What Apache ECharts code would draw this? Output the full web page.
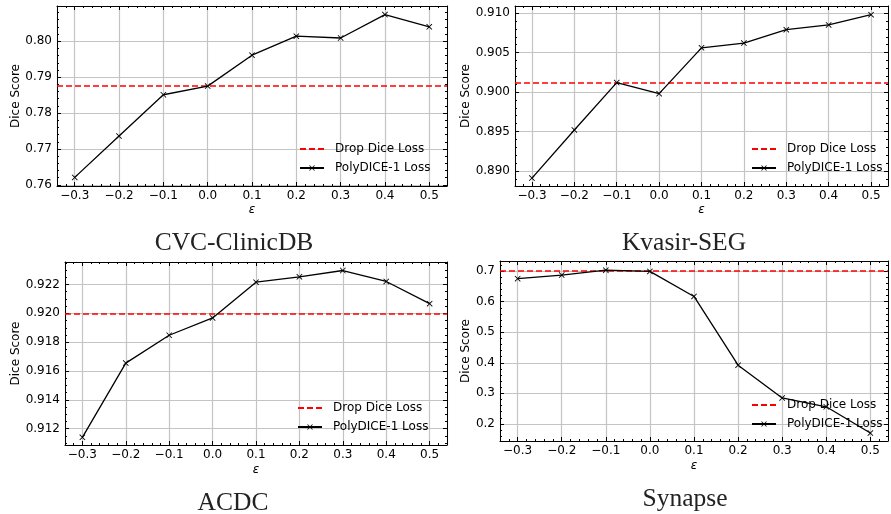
<!DOCTYPE html>
<html>
<head>
<meta charset="utf-8">
<script src="https://cdn.jsdelivr.net/npm/echarts@6/dist/echarts.min.js"></script>
<style>
  html, body { margin: 0; padding: 0; background: #fff; }
  #chart { width: 891px; height: 514px; }
</style>
</head>
<body>
<div id="chart"></div>
<script>
// epsilon values on the x axis
var eps = [-0.3, -0.2, -0.1, 0.0, 0.1, 0.2, 0.3, 0.4, 0.5];

// PolyDICE-1 Loss curves
var cvcPoly     = [0.7621, 0.7736, 0.7851, 0.7875, 0.7961, 0.8014, 0.8009, 0.8074, 0.8040];
var kvasirPoly  = [0.8891, 0.8952, 0.9012, 0.8998, 0.9056, 0.9062, 0.9079, 0.9085, 0.9098];
var acdcPoly    = [0.9114, 0.91655, 0.91848, 0.91968, 0.92216, 0.92253, 0.92297, 0.92221, 0.92067];
var synapsePoly = [0.675, 0.687, 0.703, 0.699, 0.617, 0.392, 0.285, 0.256, 0.170];

// Drop Dice Loss baselines (horizontal dashed lines)
var cvcDrop = 0.7875;
var kvasirDrop = 0.9012;
var acdcDrop = 0.91995;
var synapseDrop = 0.701;

var titles = ['CVC-ClinicDB', 'Kvasir-SEG', 'ACDC', 'Synapse'];

// per panel: y range, major step, decimals, minor splits
var panels = [
    { poly: cvcPoly,     drop: cvcDrop,     ymin: 0.7597,  ymax: 0.8098,  step: 0.01,  dec: 2, ysplit: 5, minor: 5,
      box: [57, 6, 390, 180],  yGap: 35, xGap: 18, legend: [299, 143], title: [229, 225] },
    { poly: kvasirPoly,  drop: kvasirDrop,  ymin: 0.8881,  ymax: 0.9109,  step: 0.005, dec: 3, ysplit: 5, minor: 5,
      box: [515, 6, 382, 180], yGap: 42, xGap: 18, legend: [751, 143], title: [679, 225] },
    { poly: acdcPoly,    drop: acdcDrop,    ymin: 0.91087, ymax: 0.92356, step: 0.002, dec: 3, ysplit: 6, minor: 4,
      box: [65, 262, 382, 183], yGap: 43, xGap: 19, legend: [297, 402], title: [228, 485] },
    { poly: synapsePoly, drop: synapseDrop, ymin: 0.144,   ymax: 0.733,   step: 0.1,   dec: 1, ysplit: 6, minor: 5,
      box: [500, 261, 398, 180], yGap: 27, xGap: 19, legend: [751, 399], title: [680, 481] }
];

var xMin = -0.34, xMax = 0.54, xStep = 0.1;

function fmt(step, dec) {
    return function (v) {
        var k = Number(v) / step;
        if (Math.abs(k - Math.round(k)) > 1e-6) return '';
        var n = Math.round(k);
        var s = (Math.abs(n) * step).toFixed(dec);
        return n < 0 ? '\u2212' + s : s;
    };
}

var font = 'DejaVu Sans';
var crossPath = 'path://M0,1L1,0L5,4L9,0L10,1L6,5L10,9L9,10L5,6L1,10L0,9L4,5Z';

var grid = [], xAxis = [], yAxis = [], series = [], legend = [], title = [];

panels.forEach(function (p, i) {
    grid.push({ left: p.box[0], top: p.box[1], width: p.box[2], height: p.box[3] });

    var tick = { show: true, inside: true, length: 4, lineStyle: { color: '#000', width: 1 } };
    var minorX = { show: true, splitNumber: 5, length: 2, lineStyle: { color: '#000', width: 1 } };
    var minorY = { show: true, splitNumber: p.minor, length: 2, lineStyle: { color: '#000', width: 1 } };
    var line = { show: true, onZero: false, lineStyle: { color: '#000', width: 1 } };

    // bottom x axis with labels
    xAxis.push({
        type: 'value', gridIndex: i, position: 'bottom', min: xMin, max: xMax, splitNumber: 9,
        name: 'ε', nameLocation: 'middle', nameGap: p.xGap,
        nameTextStyle: { fontFamily: font, fontSize: 12, fontStyle: 'italic', color: '#000' },
        axisLine: line, axisTick: tick, minorTick: minorX,
        axisLabel: { formatter: fmt(xStep, 1), fontFamily: font, fontSize: 12, color: '#000', margin: 4,
                     showMinLabel: true, showMaxLabel: true },
        splitLine: { show: true, lineStyle: { color: '#c4c4c4', width: 1.2 } }
    });
    // top x axis, frame + ticks only
    xAxis.push({
        type: 'value', gridIndex: i, position: 'top', min: xMin, max: xMax, splitNumber: 9,
        axisLine: line, axisTick: tick, minorTick: minorX,
        axisLabel: { show: false }, splitLine: { show: false }
    });
    // left y axis with labels
    yAxis.push({
        type: 'value', gridIndex: i, position: 'left', min: p.ymin, max: p.ymax, splitNumber: p.ysplit,
        name: 'Dice Score', nameLocation: 'middle', nameGap: p.yGap,
        nameTextStyle: { fontFamily: font, fontSize: 12, color: '#000' },
        axisLine: line, axisTick: tick, minorTick: minorY,
        axisLabel: { formatter: fmt(p.step, p.dec), fontFamily: font, fontSize: 12, color: '#000', margin: 5,
                     showMinLabel: true, showMaxLabel: true },
        splitLine: { show: true, lineStyle: { color: '#c4c4c4', width: 1.2 } }
    });
    // right y axis
    yAxis.push({
        type: 'value', gridIndex: i, position: 'right', min: p.ymin, max: p.ymax, splitNumber: p.ysplit,
        axisLine: line, axisTick: tick, minorTick: minorY,
        axisLabel: { show: false }, splitLine: { show: false }
    });

    series.push({
        name: 'Drop Dice Loss', type: 'line', xAxisIndex: 2 * i, yAxisIndex: 2 * i,
        data: [], symbol: 'none',
        lineStyle: { color: '#ff0000', type: [6, 3], width: 1.5 },
        itemStyle: { color: 'rgba(0,0,0,0)', borderColor: 'rgba(0,0,0,0)' },
        markLine: {
            silent: true, symbol: ['none', 'none'], label: { show: false }, precision: 6,
            lineStyle: { color: '#ff0000', type: [6, 3], width: 1.5 },
            data: [{ yAxis: p.drop }]
        }
    });
    series.push({
        name: 'PolyDICE-1 Loss', type: 'line', xAxisIndex: 2 * i, yAxisIndex: 2 * i,
        data: eps.map(function (x, j) { return [x, p.poly[j]]; }),
        symbol: crossPath, symbolSize: 6, showSymbol: true,
        lineStyle: { color: '#000', width: 1.3 },
        itemStyle: { color: '#000' },
        z: 5
    });

    legend.push({
        orient: 'vertical', left: p.legend[0], top: p.legend[1], padding: 0,
        itemWidth: 24, itemHeight: 7, itemGap: 7,
        textStyle: { fontFamily: font, fontSize: 12, color: '#000', padding: [0, 0, 0, 6] },
        data: ['Drop Dice Loss', 'PolyDICE-1 Loss']
    });

    title.push({
        text: titles[i], left: p.title[0], top: p.title[1], textAlign: 'center',
        textStyle: { fontFamily: 'Liberation Serif', fontSize: 25.5, fontWeight: 'normal', color: '#222' }
    });
});

var option = {
    animation: false,
    backgroundColor: '#fff',
    title: title,
    legend: legend,
    grid: grid,
    xAxis: xAxis,
    yAxis: yAxis,
    series: series
};

var myChart = echarts.init(document.getElementById('chart'));
myChart.setOption(option);
</script>
</body>
</html>
